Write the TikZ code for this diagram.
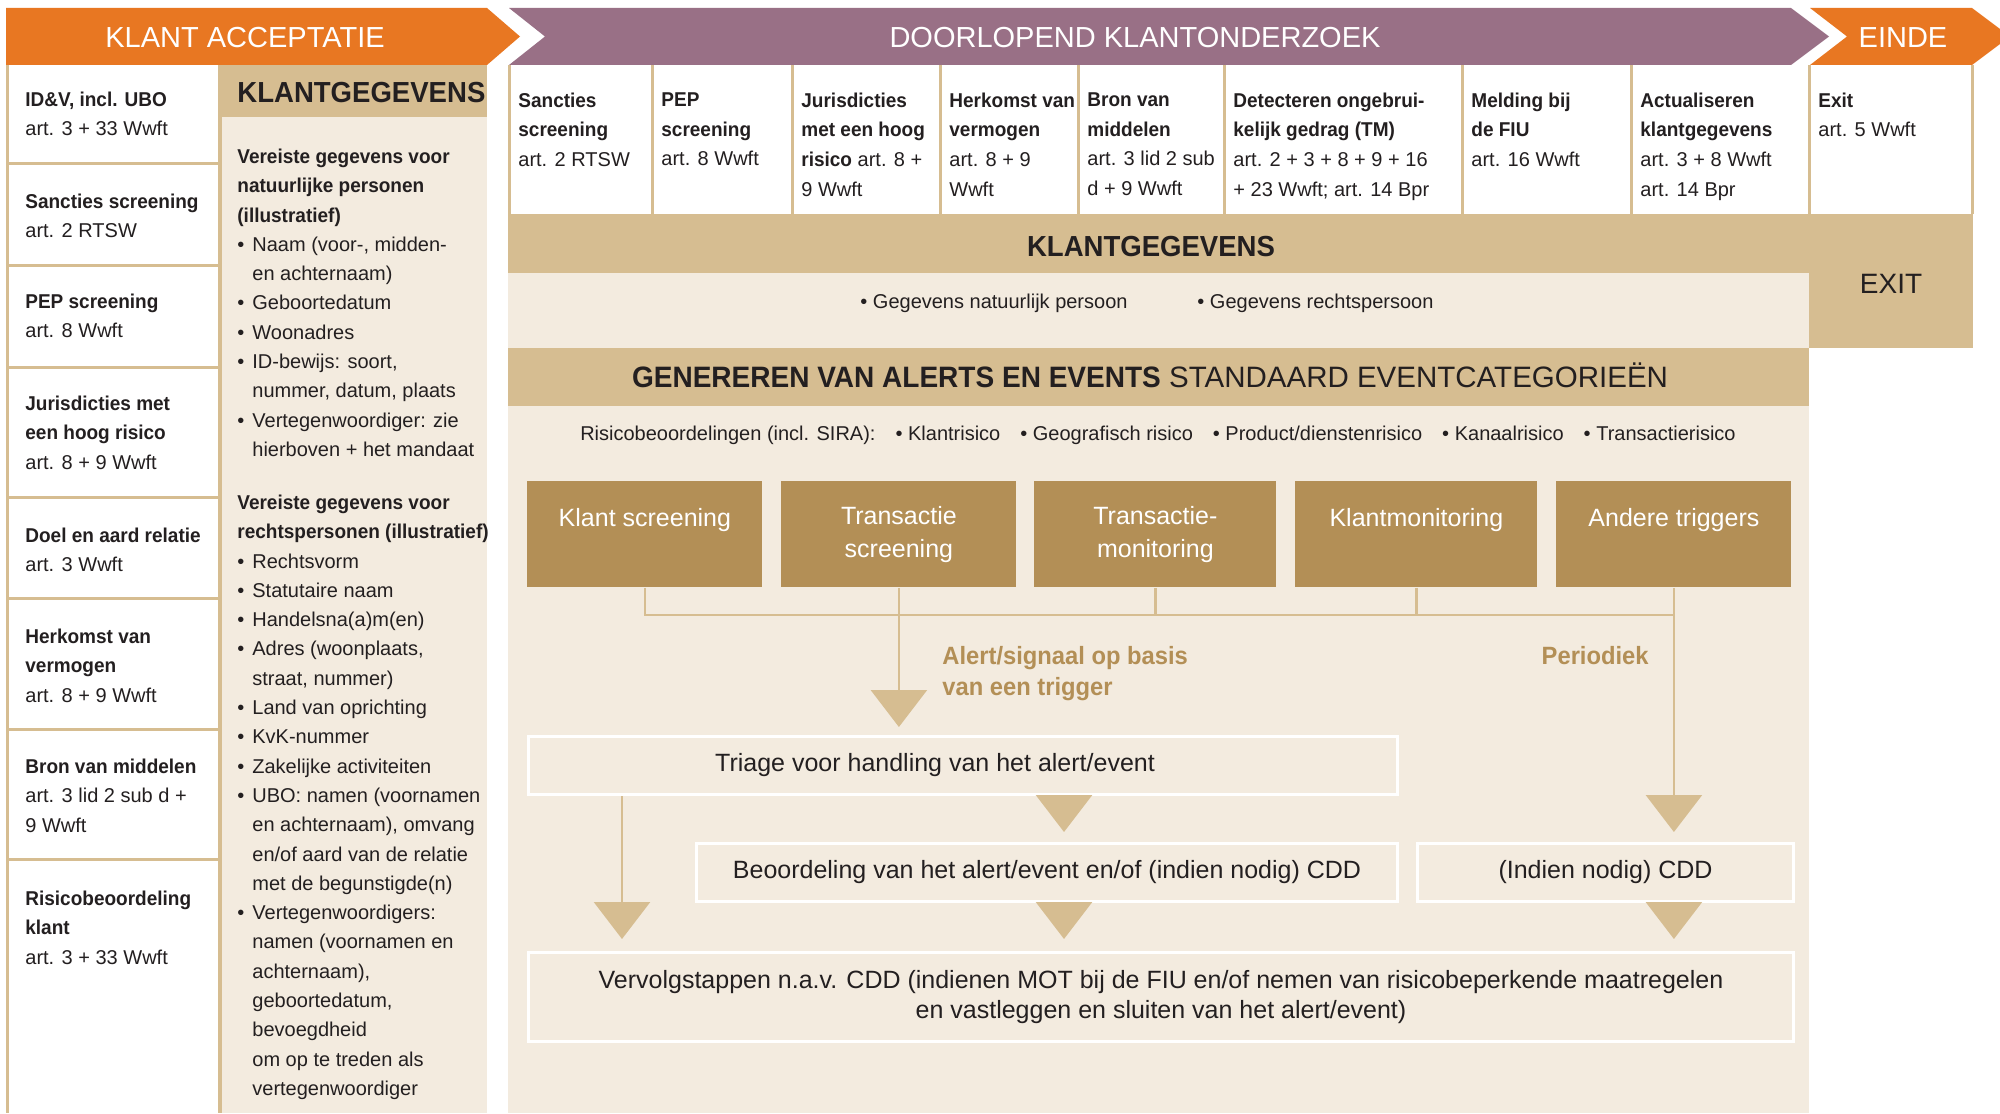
\documentclass[tikz,border=0pt]{standalone}
\usepackage{fontspec}
\setmainfont{Liberation Sans}[BoldFeatures={FakeStretch=0.95}]
\usetikzlibrary{arrows.meta}
\definecolor{oranje}{HTML}{E87722}
\definecolor{paars}{HTML}{997086}
\definecolor{zand}{HTML}{D6BD91}
\definecolor{oker}{HTML}{B38F56}
\definecolor{room}{HTML}{F3EBDF}
\definecolor{inkt}{HTML}{231F20}
\newcommand\bul{\makebox[7.5pt][l]{\textbullet}}
\newcommand\bulgap{\hspace*{7.5pt}}
\tikzset{
  kop/.style={inner sep=0pt, anchor=base, text=white, font=\fontsize{14.5}{17}\selectfont},
  cel/.style={inner sep=0pt, anchor=north west, align=left, text=inkt, execute at begin node=\strut,
    font=\fontsize{10}{14.8}\selectfont},
  lijn/.style={draw=zand, line width=1.5pt},
  trigger/.style={fill=oker, text=white, anchor=north west, align=center, minimum height=53pt, font=\fontsize{12.5}{16.5}\selectfont},
  stap/.style={draw=white, line width=1.5pt, fill=room, text=inkt, anchor=north west, align=center, font=\fontsize{12.5}{15}\selectfont},
  bus/.style={draw=zand, line width=1.4pt},
  pijl/.style={bus, -{Triangle[width=28pt, length=18.5pt]}},
}

\begin{document}
\begin{tikzpicture}[x=0.5pt, y=-0.5pt]
\path[use as bounding box] (0,0) rectangle (2000,1113);
\clip (0,0) rectangle (2000,1113);
\fill[white] (0,0) rectangle (2000,1113);

% phase banners
\fill[oranje] (6,8) -- (487,8) -- (520,36.5) -- (487,65) -- (6,65) -- cycle;
\fill[paars] (509,8) -- (1791,8) -- (1829,36.5) -- (1791,65) -- (509,65) -- (545,36.5) -- cycle;
\fill[oranje] (1810,8) -- (1972,8) -- (2010,36.5) -- (1972,65) -- (1810,65) -- (1847,36.5) -- cycle;
\node[kop] (acceptatie) at (245,48) {KLANT ACCEPTATIE};
\node[kop] (onderzoek) at (1135,48) {DOORLOPEND KLANTONDERZOEK};
\node[kop] (einde) at (1903,48) {EINDE};

% klant acceptatie
\draw[lijn] (7,65) -- (7,1113);
\foreach \y in {163,265,367,497,598,729,859}
  \draw[lijn] (7,\y) -- (218,\y);
\foreach \b/\txt [count=\i] in {
    106/{\textbf{ID\&V, incl. UBO}\\art. 3 + 33 Wwft},
    208/{\textbf{Sancties screening}\\art. 2 RTSW},
    308/{\textbf{PEP screening}\\art. 8 Wwft},
    410/{\textbf{Jurisdicties met}\\\textbf{een hoog risico}\\art. 8 + 9 Wwft},
    542/{\textbf{Doel en aard relatie}\\art. 3 Wwft},
    643/{\textbf{Herkomst van}\\\textbf{vermogen}\\art. 8 + 9 Wwft},
    773/{\textbf{Bron van middelen}\\art. 3 lid 2 sub d +\\9 Wwft},
    905/{\textbf{Risicobeoordeling}\\\textbf{klant}\\art. 3 + 33 Wwft}}
  \node[cel] (acc\i) at (25,\b-14.7) {\txt};

\fill[zand] (218,65) rectangle (487,117);
\fill[zand] (218,117) rectangle (222,1113);
\fill[room] (222,117) rectangle (487,1113);
\node[cel, anchor=base west, font=\fontsize{14.5}{17}\selectfont\bfseries] (kg-kop) at (237,103) {KLANTGEGEVENS};
\node[cel, font=\fontsize{10}{14.65}\selectfont] (kg-lijst) at (237,163-14.5) {%
  \textbf{Vereiste gegevens voor}\\
  \textbf{natuurlijke personen}\\
  \textbf{(illustratief)}\\
  \bul Naam (voor-, midden-\\
  \bulgap en achternaam)\\
  \bul Geboortedatum\\
  \bul Woonadres\\
  \bul ID-bewijs: soort,\\
  \bulgap nummer, datum, plaats\\
  \bul Vertegenwoordiger: zie\\
  \bulgap hierboven + het mandaat\\[11.85pt]
  \textbf{Vereiste gegevens voor}\\
  \textbf{rechtspersonen (illustratief)}\\
  \bul Rechtsvorm\\
  \bul Statutaire naam\\
  \bul Handelsna(a)m(en)\\
  \bul Adres (woonplaats,\\
  \bulgap straat, nummer)\\
  \bul Land van oprichting\\
  \bul KvK-nummer\\
  \bul Zakelijke activiteiten\\
  \bul UBO: namen (voornamen\\
  \bulgap en achternaam), omvang\\
  \bulgap en/of aard van de relatie\\
  \bulgap met de begunstigde(n)\\
  \bul Vertegenwoordigers:\\
  \bulgap namen (voornamen en\\
  \bulgap achternaam),\\
  \bulgap geboortedatum,\\
  \bulgap bevoegdheid\\
  \bulgap om op te treden als\\
  \bulgap vertegenwoordiger};

% doorlopend klantonderzoek
\foreach \x in {509,652,792,940,1078,1224,1462,1631,1809,1972}
  \draw[lijn] (\x,65) -- (\x,214);
\foreach \x/\txt [count=\i] in {
    509/{\textbf{Sancties}\\\textbf{screening}\\art. 2 RTSW},
    652/{\textbf{PEP}\\\textbf{screening}\\art. 8 Wwft},
    792/{\textbf{Jurisdicties}\\\textbf{met een hoog}\\\textbf{risico} art. 8 +\\9 Wwft},
    940/{\textbf{Herkomst van}\\\textbf{vermogen}\\art. 8 + 9\\Wwft},
    1078/{\textbf{Bron van}\\\textbf{middelen}\\art. 3 lid 2 sub\\d + 9 Wwft},
    1224/{\textbf{Detecteren ongebrui-}\\\textbf{kelijk gedrag (TM)}\\art. 2 + 3 + 8 + 9 + 16\\+ 23 Wwft; art. 14 Bpr},
    1462/{\textbf{Melding bij}\\\textbf{de FIU}\\art. 16 Wwft},
    1631/{\textbf{Actualiseren}\\\textbf{klantgegevens}\\art. 3 + 8 Wwft\\art. 14 Bpr},
    1809/{\textbf{Exit}\\art. 5 Wwft}}
  \node[cel, font=\fontsize{10}{14.85}\selectfont] (ond\i) at (\x+9,107-14.8) {\txt};

\fill[zand] (508,214) rectangle (1973,273);
\fill[zand] (1809,273) rectangle (1973,348);
\fill[room] (508,273) rectangle (1809,348);
\fill[zand] (508,348) rectangle (1809,406);
\fill[room] (508,406) rectangle (1809,1113);
\node[kop, text=inkt, font=\fontsize{14.5}{17}\selectfont\bfseries] (kg-band) at (1151,256) {KLANTGEGEVENS};
\node[cel, anchor=base west] (natuurlijk) at (860,308) {\textbullet\ Gegevens natuurlijk persoon};
\node[cel, anchor=base west] (rechts) at (1197,308) {\textbullet\ Gegevens rechtspersoon};
\node[kop, text=inkt, font=\fontsize{14}{17}\selectfont] (exit) at (1891,293) {EXIT};
\node[kop, text=inkt, font=\fontsize{14.75}{17}\selectfont] (alerts) at (1150,387)
  {\textbf{GENEREREN VAN ALERTS EN EVENTS} STANDAARD EVENTCATEGORIEËN};
\node[cel, anchor=base] (risico) at (1158,440) {Risicobeoordelingen (incl. SIRA):\quad
  \textbullet\ Klantrisico\quad \textbullet\ Geografisch risico\quad
  \textbullet\ Product/dienstenrisico\quad \textbullet\ Kanaalrisico\quad
  \textbullet\ Transactierisico};

% triggers en afhandeling
\node[trigger, minimum width=117.5pt] (k1) at (527,481) {Klant screening\\\mbox{}};
\node[trigger, minimum width=117.5pt] (k2) at (781,481) {Transactie\\screening};
\node[trigger, minimum width=121pt] (k3) at (1034,481) {Transactie-\\monitoring};
\node[trigger, minimum width=121pt] (k4) at (1295,481) {Klantmonitoring\\\mbox{}};
\node[trigger, minimum width=117.5pt] (k5) at (1556,481) {Andere triggers\\\mbox{}};

\node[stap, minimum width=434.5pt, minimum height=29pt] (triage) at (527,735)
  {\hspace*{-28pt}Triage voor handling van het alert/event};
\node[stap, minimum width=350.5pt, minimum height=29pt] (beoordeling) at (695,842)
  {Beoordeling van het alert/event en/of (indien nodig) CDD};
\node[stap, minimum width=188pt, minimum height=29pt] (cdd) at (1416,842)
  {(Indien nodig) CDD};
\node[stap, minimum width=632.5pt, minimum height=44.5pt] (vervolg) at (527,951)
  {Vervolgstappen n.a.v. CDD (indienen MOT bij de FIU en/of nemen van risicobeperkende maatregelen\\
   en vastleggen en sluiten van het alert/event)};

\node[cel, text=oker, font=\fontsize{12.5}{15.5}\selectfont\bfseries] (signaal) at (942,663-16.7)
  {Alert/signaal op basis\\van een trigger};
\node[cel, anchor=base east, text=oker, font=\fontsize{12.5}{15.5}\selectfont\bfseries] (periodiek) at (1649,664)
  {Periodiek};

\coordinate (bus) at (0,615);
\coordinate (links) at (622,0);
\coordinate (midden) at (1064,0);
\draw[bus] (k1.south) -- (k1.south |- bus) -- (k5.south |- bus);
\foreach \k in {k3,k4}
  \draw[bus] (\k.south) -- (\k.south |- bus);
\draw[pijl, shorten >=4pt] (k2.south) -- (k2.south |- triage.north);
\draw[pijl, shorten >=5pt] (k5.south) -- (k5.south |- cdd.north);
\draw[pijl, shorten >=5pt] (triage.south -| midden) -- (beoordeling.north -| midden);
\draw[pijl, shorten >=6pt] (triage.south -| links) -- (vervolg.north -| links);
\draw[pijl, shorten >=6pt] (beoordeling.south -| midden) -- (vervolg.north -| midden);
\draw[pijl, shorten >=6pt] (cdd.south -| k5.south) -- (vervolg.north -| k5.south);
\end{tikzpicture}
\end{document}
